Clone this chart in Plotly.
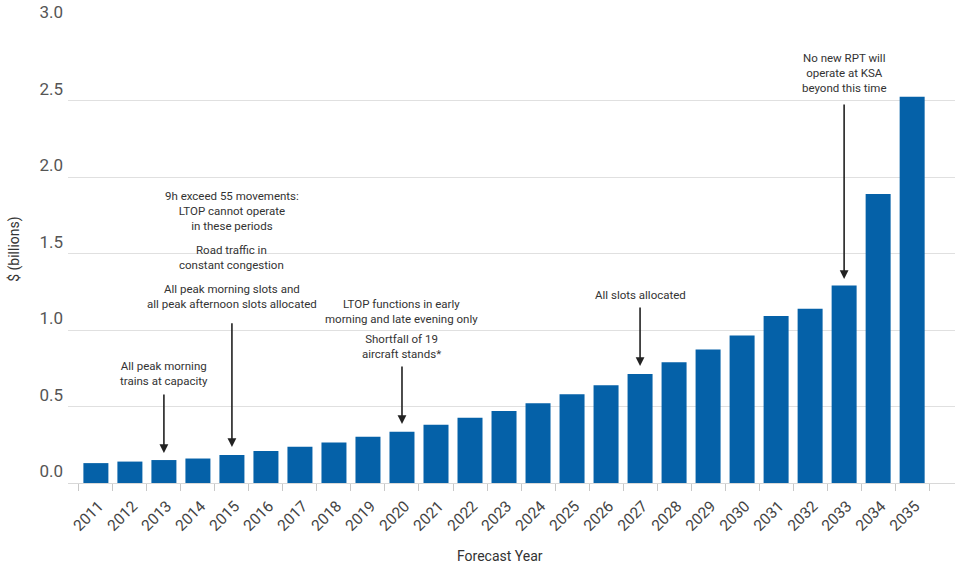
import plotly.graph_objects as go

# Forecast years and annual cost ($ billions)
years = [str(y) for y in range(2011, 2036)]
cost_billions = [0.13, 0.14, 0.15, 0.16, 0.183, 0.209, 0.237, 0.265, 0.302, 0.335,
                 0.381, 0.426, 0.471, 0.521, 0.580, 0.639, 0.712, 0.789, 0.872, 0.964,
                 1.092, 1.139, 1.291, 1.889, 2.525]

y_ticks = [0.0, 0.5, 1.0, 1.5, 2.0, 2.5, 3.0]

# Milestone notes: (year, [(text, y_centre)], arrow_start_y, arrow_end_y)
milestones = [
    ("2013", [("All peak morning<br>trains at capacity", 0.718)], 0.588, 0.196),
    ("2015", [("9h exceed 55 movements:<br>LTOP cannot operate<br>in these periods", 1.778),
              ("Road traffic in<br>constant congestion", 1.471),
              ("All peak morning slots and<br>all peak afternoon slots allocated", 1.222)],
     1.054, 0.235),
    ("2020", [("LTOP functions in early<br>morning and late evening only", 1.124),
              ("Shortfall of 19<br>aircraft stands*", 0.892)], 0.771, 0.386),
    ("2027", [("All slots allocated", 1.229)], 1.157, 0.765),
    ("2033", [("No new RPT will<br>operate at KSA<br>beyond this time", 2.683)], 2.484, 1.333),
]

FONT = "Liberation Sans Narrow, Arial Narrow, Roboto, sans-serif"
BAR_COLOR = "#0561a8"

fig = go.Figure(go.Bar(
    x=years, y=cost_billions, marker_color=BAR_COLOR, marker_line_width=0,
    width=0.735, hoverinfo="x+y",
))

annotations = []
for year, notes, y0, y1 in milestones:
    xi = years.index(year)  # category index on the x axis
    for text, yc in notes:
        annotations.append(dict(
            x=xi, y=yc, xref="x", yref="y", text=text, showarrow=False,
            xanchor="center", yanchor="middle", align="center",
            font=dict(family=FONT, size=11.5, color="#333333"),
        ))
    annotations.append(dict(
        x=xi, y=y1, ax=xi, ay=y0, xref="x", yref="y", axref="x", ayref="y",
        text="", showarrow=True, arrowhead=2, arrowsize=1.1, arrowwidth=1.6,
        arrowcolor="#222222",
    ))

annotations.append(dict(
    x=(500 - 68) / 887, y=-0.16, xref="paper", yref="paper", text="Forecast Year",
    showarrow=False, xanchor="center", yanchor="middle",
    font=dict(family=FONT, size=14, color="#333333"),
))
annotations.append(dict(
    x=(15 - 68) / 887, y=0.508, xref="paper", yref="paper", text="$ (billions)",
    textangle=-90, showarrow=False, xanchor="center", yanchor="middle",
    font=dict(family=FONT, size=14, color="#333333"),
))

fig.update_layout(
    width=955, height=568,
    margin=dict(l=68, r=0, t=24, b=85),
    paper_bgcolor="white", plot_bgcolor="white",
    showlegend=False,
    bargap=0.265,
    font=dict(family=FONT, color="#444444"),
    xaxis=dict(
        type="category", range=[-0.82, 25.26], tickson="boundaries",
        ticks="outside", ticklen=7, tickcolor="#c8c8c8", tickwidth=1,
        tickangle=-45, tickfont=dict(family=FONT, size=15.5, color="#444444"),
        ticklabelstandoff=10, ticklabelshift=3,
        showgrid=False, showline=False, zeroline=False,
    ),
    yaxis=dict(
        range=[0, 3.0], tickvals=y_ticks, tickformat=".1f",
        ticklabelposition="outside top", ticks="", ticklabelstandoff=4,
        tickfont=dict(family=FONT, size=17, color="#555555"),
        showgrid=True, gridcolor="#e0e0e0", gridwidth=1,
        zeroline=True, zerolinecolor="#d8d8d8", zerolinewidth=1, showline=False,
    ),
    annotations=annotations,
)

fig.write_html("out.html")
